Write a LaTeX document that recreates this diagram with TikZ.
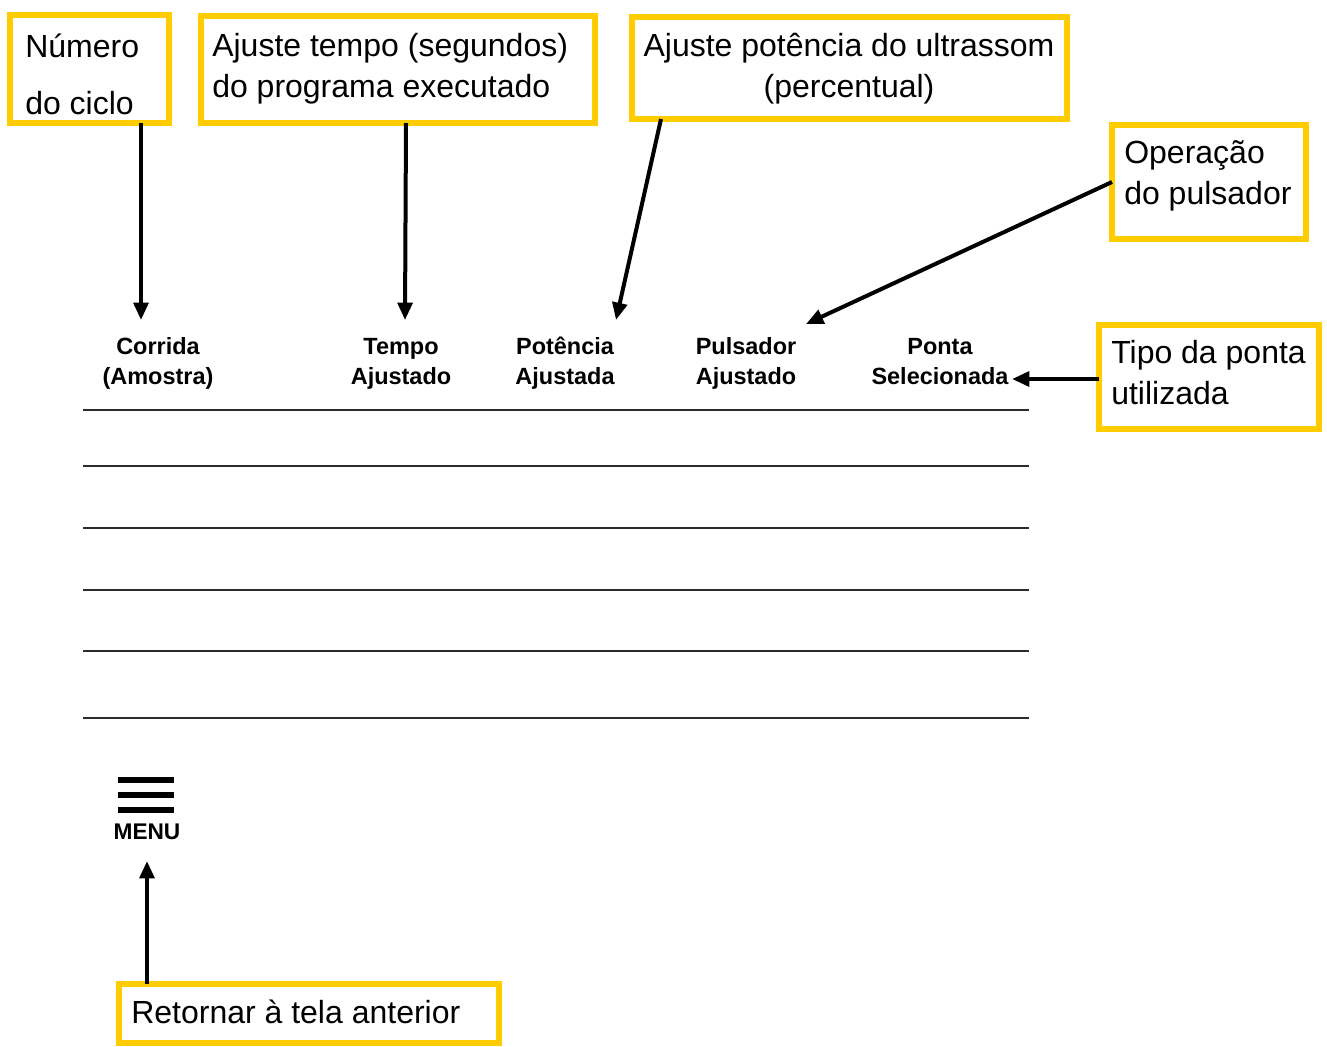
\documentclass[tikz,border=0pt]{standalone}
\usepackage{fontspec}
\setmainfont{Liberation Sans}
\usetikzlibrary{arrows.meta}
\definecolor{ybox}{HTML}{FFCC00}
\definecolor{rule}{HTML}{2B2B2B}
\begin{document}
\begin{tikzpicture}[x=0.75pt,y=-0.75pt,
  ybox/.style={draw=ybox,line width=4.5pt,fill=none},
  lbl/.style={inner sep=0pt,font=\fontsize{24}{30}\selectfont},
  hdr/.style={inner sep=0pt,align=center,font=\bfseries\fontsize{17.6}{22.5}\selectfont},
  conn/.style={line width=3pt,-{Triangle[length=13pt,width=11pt]}},
  trule/.style={draw=rule,line width=1.5pt}]
\useasboundingbox (0,0) rectangle (1327,1046);
% boxes
\draw[ybox] (10,15) rectangle (169,123);
\coordinate (nbs) at (141,123);
\draw[ybox] (201,16) rectangle (595,123);
\coordinate (tbs) at (406,123);
\draw[ybox] (632,17) rectangle (1067,119);
\coordinate (pbs) at (661,119);
\draw[ybox] (1112,125) rectangle (1306,239);
\coordinate (obs) at (1112,182);
\draw[ybox] (1099,325) rectangle (1319,429);
\coordinate (tps) at (1099,379);
\draw[ybox] (119,984) rectangle (499,1043);
\coordinate (rbs) at (147,984);
% box texts
\node[lbl,anchor=base west] (t1a) at (25,57) {Número};
\node[lbl,anchor=base west] (t1b) at (25,114) {do ciclo};
\node[lbl,anchor=base west] (t2a) at (212,56) {Ajuste tempo (segundos)};
\node[lbl,anchor=base west] (t2b) at (212,97) {do programa executado};
\node[lbl,anchor=base] (t3a) at (849,56) {Ajuste potência do ultrassom};
\node[lbl,anchor=base] (t3b) at (849,97) {(percentual)};
\node[lbl,anchor=base west] (t4a) at (1124,163) {Operação};
\node[lbl,anchor=base west] (t4b) at (1124,204) {do pulsador};
\node[lbl,anchor=base west] (t5a) at (1111,363) {Tipo da ponta};
\node[lbl,anchor=base west] (t5b) at (1111,404) {utilizada};
\node[lbl,anchor=base west] (t6) at (131,1023) {Retornar à tela anterior};
% headers
\node[hdr,anchor=base] (h1) at (158,384) {Corrida\\(Amostra)};
\node[hdr,anchor=base] (h2) at (401,384) {Tempo\\Ajustado};
\node[hdr,anchor=base] (h3) at (565,384) {Potência\\Ajustada};
\node[hdr,anchor=base] (h4) at (746,384) {Pulsador\\Ajustado};
\node[hdr,anchor=base] (h5) at (940,384) {Ponta\\Selecionada};
% arrow targets
\coordinate (e1) at (141,320);
\coordinate (e2) at (405,320);
\coordinate (e3) at (616,320);
\coordinate (e4) at (806,324);
\coordinate (e5) at (1012,379);
\coordinate (e6) at (147,861);
\draw[conn] (nbs) -- (e1);
\draw[conn] (tbs) -- (e2);
\draw[conn] (pbs) -- (e3);
\draw[conn] (obs) -- (e4);
\draw[conn] (tps) -- (e5);
\draw[conn] (rbs) -- (e6);
% table rules
\foreach \yy/\nm in {410/r1,466/r2,528/r3,590/r4,651/r5,718/r6}{
  \coordinate (\nm l) at (83,\yy);
  \coordinate (\nm r) at (1029,\yy);
  \draw[trule] (\nm l) -- (\nm r);
}
% menu icon
\foreach \yy in {780,795,810}{
  \fill (118,\yy-3) rectangle (174,\yy+3);
}
\node[inner sep=0pt,anchor=base,font=\bfseries\fontsize{17}{20}\selectfont] (menu) at (147,839) {MENU};
\end{tikzpicture}
\end{document}
